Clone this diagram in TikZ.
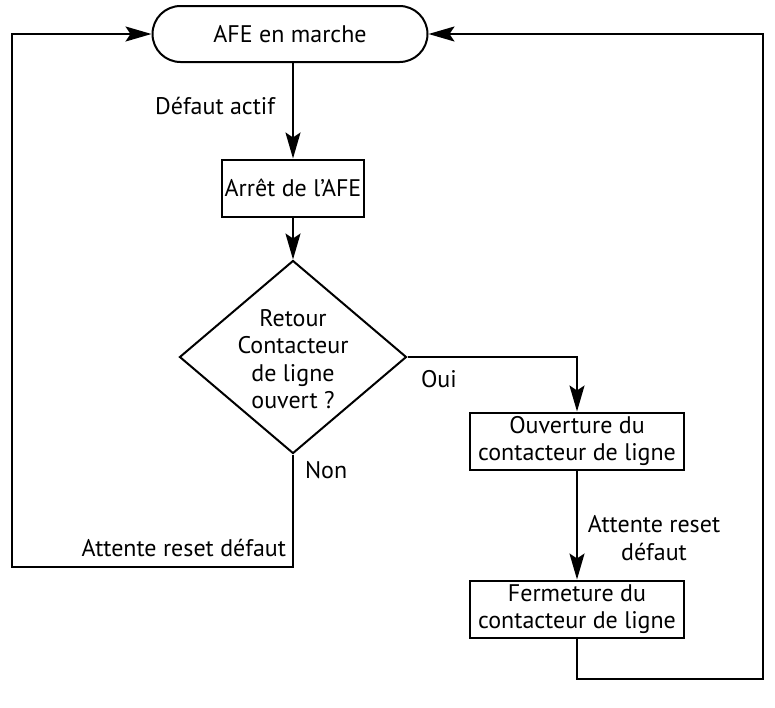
\documentclass[tikz,border=0pt]{standalone}
\usepackage{fontspec}
\setmainfont{PT Sans}
\usetikzlibrary{arrows.meta,shapes.geometric}
\begin{document}
\begin{tikzpicture}[x=1pt,y=-1pt,
  line width=2pt,
  every node/.style={font=\fontsize{24}{27.5}\selectfont},
  arr/.style={-{Stealth[length=26pt,width=15pt,inset=5pt]}},
  term/.style={draw,rounded corners=28pt,minimum width=275pt,minimum height=56pt,inner sep=0pt},
  proc/.style={draw,align=center,inner sep=3pt,minimum height=57pt},
  dec/.style={draw,diamond,minimum width=227pt,minimum height=193pt,inner sep=0pt},
  lbl/.style={inner sep=0pt,align=center}]
\useasboundingbox (0,0) rectangle (775,707);
\node[term] (afe) at (290,34) {AFE en marche};
\node[proc,minimum width=141pt] (arret) at (293,188) {Arrêt de l'AFE};
\node[dec] (dec) at (293,357) {};
\node[lbl] at (293,359) {Retour\\Contacteur\\de ligne\\ouvert ?};
\node[proc,minimum width=214pt] (ouv) at (577,441) {Ouverture du\\contacteur de ligne};
\node[proc,minimum width=214pt] (ferm) at (577,609) {Fermeture du\\contacteur de ligne};
\coordinate (ll) at (12,567);
\coordinate (lt) at (12,34);
\coordinate (nb) at (293,567);
\coordinate (oc) at (577,357);
\coordinate (fb) at (577,679);
\coordinate (rb) at (763,679);
\coordinate (rt) at (763,34);
\draw[arr] (afe.south -| arret.north) -- (arret.north);
\draw[arr] (arret) -- (dec.north);
\draw[arr] (dec.east) -- (oc) -- (ouv.north);
\draw[arr] (ouv) -- (ferm);
\draw[arr] (dec.south) -- (nb) -- (ll) -- (lt) -- (afe.west);
\draw[arr] (ferm.south) -- (fb) -- (rb) -- (rt) -- (afe.east);
\node[lbl,anchor=east] at (276,106) {Défaut actif};
\node[lbl,anchor=west] at (420,379) {Oui};
\node[lbl,anchor=west] at (304,470) {Non};
\node[lbl,anchor=east] at (287,548) {Attente reset défaut};
\node[lbl] at (654,538) {Attente reset\\défaut};
\end{tikzpicture}
\end{document}
